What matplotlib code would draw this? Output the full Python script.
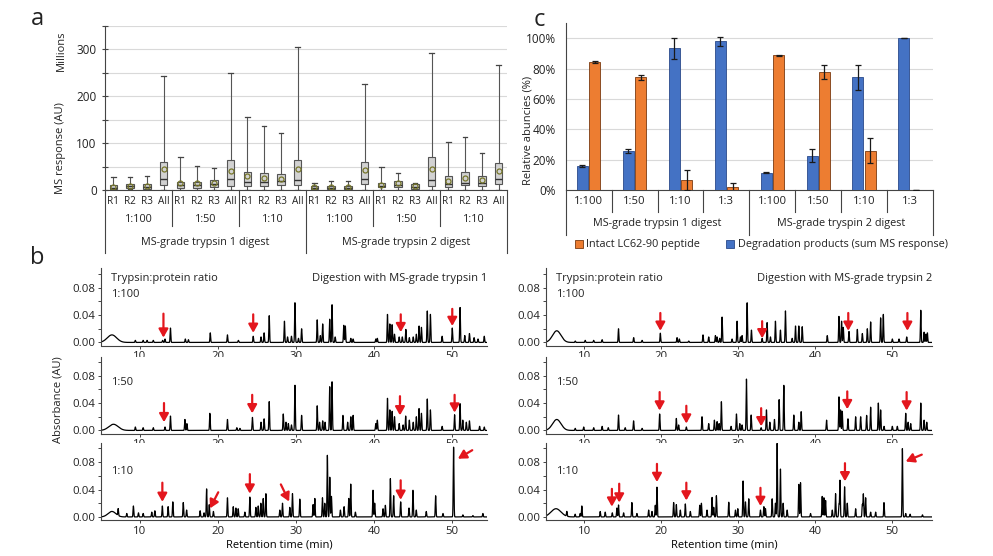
import numpy as np
import matplotlib
matplotlib.use('Agg')
import matplotlib.pyplot as plt
from matplotlib import transforms
from matplotlib.lines import Line2D
from matplotlib.patches import Patch
from matplotlib.ticker import MultipleLocator, FuncFormatter

plt.rcParams['font.family'] = ['Open Sans', 'DejaVu Sans']
plt.rcParams['text.color'] = '#222222'
plt.rcParams['xtick.color'] = '#444444'
plt.rcParams['ytick.color'] = '#444444'
plt.rcParams['xtick.labelcolor'] = '#222222'
plt.rcParams['ytick.labelcolor'] = '#222222'

# ---------------- Panel a data (millions) ----------------
a_reps = ['R1', 'R2', 'R3', 'All']
a_ratios = ['1:100', '1:50', '1:10']
a_digests = ['MS-grade trypsin 1 digest', 'MS-grade trypsin 2 digest']
a_whishi = [28, 27, 30, 243, 71, 51, 48, 249, 155, 137, 121, 305,
            16, 18.5, 18.5, 226, 50, 36, 16, 293, 102, 114, 80, 266]
a_q3 = [11, 13.5, 13, 60, 18, 18, 22, 64, 39, 35.5, 34, 64,
        9, 9, 9.5, 60, 16, 19, 12, 70, 29, 37.7, 30.5, 57]
a_med = [5, 8, 6, 23.4, 11, 11, 12, 23, 18, 17, 19, 20.6,
         4, 4, 4, 23.4, 9, 10, 6, 21, 12, 14, 14, 23.4]
a_q1 = [1.5, 5, 1.5, 10, 5, 5, 6, 8.5, 8.5, 8.5, 10.6, 10.6,
        2, 2, 2, 12.8, 5.7, 5.7, 3, 9, 7, 10.6, 8.5, 12]
a_whislo = [0.5, 2, 0.5, 0.5, 1, 1, 1, 1, 1, 1, 1, 1,
            0.5, 0.5, 0.5, 0.5, 1, 1, 0.5, 1, 1, 1, 1, 1]
a_mean = [6, 9, 8, 44, 14, 14, 16, 41, 30.5, 26, 24, 44,
          5.7, 5.7, 6, 42.6, 11, 14, 8, 45, 19, 26, 21, 40]

# ---------------- Panel c data (%) ----------------
c_ratios = ['1:100', '1:50', '1:10', '1:3', '1:100', '1:50', '1:10', '1:3']
c_digests = ['MS-grade trypsin 1 digest', 'MS-grade tryspin 2 digest']
c_degradation = [16, 25.7, 93.4, 98.2, 11.4, 22.6, 74.3, 100]
c_degradation_err = [0.6, 1.6, 6.7, 3.0, 0.5, 4.4, 8.2, 0]
c_intact = [84.2, 74.3, 6.6, 1.8, 88.8, 77.8, 25.9, 0]
c_intact_err = [0.6, 1.4, 6.6, 3.0, 0.5, 4.4, 8.2, 0]

# ---------------- Panel b data (retention time min, absorbance AU) ----------------
b_ratio_labels = ['1:100', '1:50', '1:10']
b_titles = ['Digestion with MS-grade trypsin 1', 'Digestion with MS-grade trypsin 2']

t1_100_t = [9.4, 10.4, 10.9, 11.7, 12.9, 13.2, 13.9, 15.8, 16.2, 19.0, 21.2, 22.6, 24.5, 25.5, 25.9,
            26.55, 28.5, 28.9, 29.4, 29.85, 30.3, 30.7, 32.7, 33.1, 33.4, 34.3, 34.6, 35.0, 36.1, 36.3,
            37.0, 37.3, 40.2, 40.4, 41.7, 42.0, 42.3, 42.6, 43.2, 43.6, 44.05, 44.5, 45.0, 45.4, 45.75,
            46.05, 46.8, 47.2, 48.7, 50.0, 51.0, 51.6, 52.2, 52.8, 53.3, 54.1]
t1_100_h = [0.003, 0.003, 0.003, 0.003, 0.003, 0.005, 0.021, 0.005, 0.004, 0.014, 0.011, 0.003, 0.009, 0.008, 0.014,
            0.039, 0.031, 0.008, 0.009, 0.058, 0.006, 0.020, 0.033, 0.010, 0.027, 0.034, 0.055, 0.008, 0.025, 0.024,
            0.006, 0.005, 0.005, 0.006, 0.041, 0.027, 0.026, 0.012, 0.008, 0.008, 0.019, 0.007, 0.008, 0.012, 0.024,
            0.022, 0.046, 0.041, 0.009, 0.021, 0.051, 0.010, 0.013, 0.007, 0.005, 0.009]

t1_50_t = [9.4, 10.4, 11.7, 13.2, 13.9, 15.75, 16.0, 18.95, 21.2, 22.4, 22.8, 24.4, 25.5, 25.9, 26.55,
           28.35, 28.7, 29.0, 29.4, 29.85, 30.7, 32.7, 33.0, 33.4, 33.7, 34.3, 34.6, 36.0, 36.6, 37.0,
           37.3, 40.2, 40.4, 41.7, 42.0, 42.3, 42.6, 43.2, 43.7, 44.03, 44.5, 45.0, 45.4, 45.75, 46.05,
           46.8, 47.2, 48.7, 50.3, 51.0, 51.35, 51.8, 52.2, 53.5, 54.1]
t1_50_h = [0.005, 0.004, 0.004, 0.005, 0.021, 0.016, 0.010, 0.025, 0.016, 0.004, 0.003, 0.019, 0.012, 0.017, 0.042,
           0.024, 0.012, 0.010, 0.008, 0.066, 0.022, 0.036, 0.012, 0.014, 0.012, 0.064, 0.071, 0.022, 0.012, 0.020,
           0.022, 0.010, 0.015, 0.047, 0.030, 0.028, 0.020, 0.010, 0.008, 0.021, 0.015, 0.012, 0.020, 0.032, 0.025,
           0.046, 0.030, 0.006, 0.023, 0.039, 0.015, 0.012, 0.014, 0.006, 0.005]

t1_10_t = [7.2, 8.3, 9.15, 9.8, 10.4, 11.5, 11.9, 12.86, 13.6, 14.2, 15.54, 15.97, 17.7, 18.2, 18.53,
           18.87, 19.4, 21.2, 21.94, 22.28, 22.58, 23.43, 24.07, 24.84, 25.14, 25.48, 25.78, 26.12, 27.91, 28.25,
           29.19, 29.53, 30.47, 32.17, 32.39, 33.37, 33.67, 34.0, 34.31, 34.52, 35.67, 36.14, 36.74, 36.99, 37.59,
           39.85, 40.06, 41.13, 41.43, 42.07, 42.49, 43.39, 44.46, 44.97, 45.39, 46.67, 47.87, 48.81, 50.17, 51.36,
           52.64, 53.92]
t1_10_h = [0.010, 0.005, 0.016, 0.006, 0.005, 0.007, 0.009, 0.016, 0.015, 0.022, 0.021, 0.010, 0.009, 0.006, 0.041,
           0.018, 0.008, 0.028, 0.015, 0.013, 0.012, 0.007, 0.029, 0.014, 0.016, 0.020, 0.027, 0.034, 0.010, 0.020,
           0.014, 0.034, 0.026, 0.018, 0.027, 0.028, 0.020, 0.090, 0.058, 0.030, 0.010, 0.015, 0.027, 0.048, 0.007,
           0.039, 0.020, 0.012, 0.017, 0.056, 0.031, 0.022, 0.013, 0.039, 0.010, 0.008, 0.031, 0.005, 0.102, 0.003,
           0.002, 0.005]

t2_100_t = [8.8, 10.1, 11.2, 12.3, 14.43, 16.4, 17.5, 19.87, 22.04, 22.34, 23.56, 25.42, 26.16, 27.03, 27.25,
            27.59, 27.9, 29.2, 29.85, 30.29, 30.5, 31.16, 31.72, 33.11, 33.76, 34.19, 34.84, 35.49, 36.14, 37.01,
            37.45, 37.88, 38.32, 41.58, 43.1, 43.44, 43.66, 44.4, 45.49, 46.14, 46.79, 47.22, 48.52, 48.87, 50.04,
            50.91, 51.91, 53.74, 54.17, 54.39, 54.6]
t2_100_h = [0.002, 0.003, 0.003, 0.004, 0.020, 0.007, 0.003, 0.0135, 0.007, 0.005, 0.002, 0.011, 0.008, 0.010, 0.008,
            0.006, 0.037, 0.005, 0.031, 0.008, 0.010, 0.058, 0.018, 0.006, 0.029, 0.008, 0.031, 0.018, 0.046, 0.006,
            0.024, 0.024, 0.023, 0.010, 0.038, 0.031, 0.022, 0.016, 0.019, 0.013, 0.020, 0.030, 0.036, 0.041, 0.005,
            0.005, 0.008, 0.047, 0.015, 0.012, 0.014]

t2_50_t = [8.8, 9.9, 11.2, 12.3, 13.1, 14.43, 15.3, 16.39, 17.5, 19.78, 21.95, 22.25, 23.25, 25.29, 26.16,
           26.9, 27.25, 27.51, 27.81, 29.07, 29.77, 30.2, 30.5, 31.07, 31.68, 32.98, 33.67, 34.11, 34.71, 35.32,
           35.93, 37.23, 37.88, 38.19, 41.49, 43.1, 43.31, 43.53, 44.27, 45.27, 45.92, 46.7, 47.22, 48.22, 48.52,
           48.96, 50.04, 50.69, 51.78, 52.09, 52.43, 53.74, 54.17, 54.52]
t2_50_h = [0.003, 0.005, 0.004, 0.006, 0.004, 0.0225, 0.004, 0.014, 0.003, 0.024, 0.0175, 0.008, 0.005, 0.020, 0.010,
           0.015, 0.013, 0.010, 0.042, 0.006, 0.024, 0.010, 0.008, 0.075, 0.0225, 0.004, 0.030, 0.012, 0.016, 0.045,
           0.066, 0.0225, 0.012, 0.0275, 0.015, 0.049, 0.030, 0.028, 0.017, 0.020, 0.020, 0.022, 0.034, 0.040, 0.030,
           0.006, 0.006, 0.006, 0.025, 0.012, 0.010, 0.040, 0.015, 0.012]

t2_10_t = [7.71, 8.79, 9.44, 9.66, 12.05, 12.7, 13.62, 14.22, 14.43, 15.09, 16.17, 16.82, 18.35, 18.78, 19.21,
           19.43, 21.6, 21.95, 22.47, 23.12, 23.77, 24.99, 25.21, 25.94, 26.6, 26.81, 27.16, 28.77, 29.64, 29.94,
           30.63, 30.94, 31.37, 32.89, 33.33, 33.54, 34.41, 34.84, 35.06, 35.49, 35.84, 36.36, 37.88, 38.1, 39.4,
           40.92, 41.14, 41.36, 42.23, 42.66, 43.1, 43.23, 43.83, 44.18, 45.27, 46.14, 46.27, 46.57, 47.22, 47.87,
           48.96, 51.35, 51.78, 52.35, 53.96]
t2_10_h = [0.007, 0.004, 0.005, 0.016, 0.008, 0.007, 0.006, 0.013, 0.0175, 0.006, 0.021, 0.005, 0.010, 0.008, 0.017,
           0.0435, 0.021, 0.018, 0.010, 0.019, 0.008, 0.017, 0.020, 0.010, 0.0285, 0.014, 0.031, 0.0215, 0.010, 0.012,
           0.0525, 0.022, 0.0265, 0.010, 0.015, 0.012, 0.0265, 0.020, 0.1075, 0.070, 0.020, 0.010, 0.0475, 0.050, 0.005,
           0.030, 0.028, 0.024, 0.010, 0.034, 0.018, 0.0535, 0.044, 0.020, 0.012, 0.018, 0.0335, 0.028, 0.007, 0.007,
           0.021, 0.100, 0.005, 0.004, 0.003]

# broad early hump per trace: (centre, height, width) in order L100, L50, L10, R100, R50, R10
hump_t = [6.4, 6.6, 6.4, 6.4, 6.4, 6.3]
hump_h = [0.011, 0.009, 0.008, 0.017, 0.016, 0.012]
hump_w = [0.6, 0.6, 0.5, 0.55, 0.55, 0.65]

# arrows: (tail_t, tail_h, tip_t, tip_h)
arr_L100 = [(13.0, 0.042, 13.0, 0.007), (24.5, 0.041, 24.5, 0.014), (43.4, 0.041, 43.4, 0.015),
            (50.0, 0.049, 50.0, 0.024)]
arr_L50 = [(13.07, 0.040, 13.07, 0.012), (24.37, 0.052, 24.37, 0.025), (43.3, 0.050, 43.3, 0.022),
           (50.3, 0.052, 50.3, 0.026)]
arr_L10 = [(12.86, 0.050, 12.86, 0.022), (24.07, 0.0625, 24.07, 0.034), (43.39, 0.0535, 43.39, 0.025),
           (20.02, 0.036, 18.96, 0.0125), (28.04, 0.0475, 29.10, 0.0225), (52.56, 0.0975, 50.72, 0.085)]
arr_R100 = [(19.87, 0.043, 19.87, 0.017), (33.11, 0.031, 33.11, 0.006), (44.31, 0.043, 44.31, 0.017),
            (52.0, 0.043, 52.0, 0.017)]
arr_R50 = [(19.78, 0.056, 19.78, 0.029), (23.25, 0.036, 23.25, 0.010), (32.98, 0.0325, 32.98, 0.006),
           (44.18, 0.057, 44.18, 0.031), (51.9, 0.056, 51.9, 0.029)]
arr_R10 = [(13.57, 0.041, 13.57, 0.015), (14.52, 0.0485, 14.52, 0.021), (19.43, 0.0775, 19.43, 0.051),
           (23.25, 0.050, 23.25, 0.024), (32.89, 0.0425, 32.89, 0.016), (43.88, 0.0785, 43.88, 0.052),
           (53.87, 0.091, 51.78, 0.081)]

# ---------------- figure ----------------
W, H = 993, 556
fig = plt.figure(figsize=(W / 100, H / 100), dpi=100)


def rect(x0, y0, x1, y1):
    return [x0 / W, 1 - y1 / H, (x1 - x0) / W, (y1 - y0) / H]


def fy(py):
    return 1 - py / H


SPINE = '#444444'
TXT = 7.8     # general annotation text
TICK = 8.2    # tick labels

# ---------------- Panel a ----------------
axA = fig.add_axes(rect(105, 26, 507, 190))
stats = []
for i in range(24):
    stats.append(dict(med=a_med[i], q1=a_q1[i], q3=a_q3[i], whislo=a_whislo[i],
                      whishi=a_whishi[i], mean=a_mean[i], fliers=[]))
axA.bxp(stats, positions=list(range(24)), widths=0.45, showmeans=True, patch_artist=True,
        capwidths=0.28,
        boxprops=dict(facecolor='#d2d2d2', edgecolor='#555555', linewidth=0.8),
        medianprops=dict(color='#333333', linewidth=1.0),
        whiskerprops=dict(color='#555555', linewidth=0.8),
        capprops=dict(color='#444444', linewidth=0.9),
        meanprops=dict(marker='o', markersize=3.6, markerfacecolor='none',
                       markeredgecolor='#76762a', markeredgewidth=0.9))
axA.set_xlim(-0.5, 23.5)
axA.set_ylim(0, 350)
axA.yaxis.set_major_locator(MultipleLocator(100))
axA.yaxis.set_minor_locator(MultipleLocator(50))
axA.yaxis.grid(True, which='both', color='#d9d9d9', linewidth=0.8)
axA.set_axisbelow(True)
axA.set_xticks([])
axA.tick_params(axis='y', which='both', direction='inout', length=4, width=0.8, labelsize=TICK + 0.3, pad=4)
for s in ['top', 'right']:
    axA.spines[s].set_visible(False)
axA.spines['left'].set_color(SPINE)
axA.spines['bottom'].set_color(SPINE)
axA.spines['left'].set_linewidth(0.8)
axA.spines['bottom'].set_linewidth(0.8)

trA = transforms.blended_transform_factory(axA.transData, fig.transFigure)
for i in range(24):
    axA.text(i, fy(201), a_reps[i % 4], transform=trA, ha='center', va='center', fontsize=TXT - 0.6)
for g in range(6):
    axA.text(g * 4 + 1.5, fy(220), a_ratios[g % 3], transform=trA, ha='center', va='center', fontsize=TXT)
for d in range(2):
    axA.text(d * 12 + 5.5, fy(242), a_digests[d], transform=trA, ha='center', va='center', fontsize=TXT)
for xs in [3.5, 7.5, 15.5, 19.5]:
    axA.add_line(Line2D([xs, xs], [fy(190), fy(226)], transform=trA, color=SPINE, lw=0.8, clip_on=False))
for xs in [-0.5, 11.5, 23.5]:
    axA.add_line(Line2D([xs, xs], [fy(190), fy(253)], transform=trA, color=SPINE, lw=0.8, clip_on=False))
axA.set_xlim(-0.5, 23.5)
axA.set_ylim(0, 350)

fig.text(61 / W, fy(148), 'MS response (AU)', rotation=90, ha='center', va='center', fontsize=TXT + 0.2)
fig.text(61 / W, fy(51), 'Millions', rotation=90, ha='center', va='center', fontsize=TXT + 0.2)

# ---------------- Panel c ----------------
axC = fig.add_axes(rect(565.7, 23.3, 933, 190))
xc = np.arange(8)
ekw = dict(ecolor='#1a1a1a', elinewidth=0.9, capsize=2.5, capthick=0.9)
axC.bar(xc - 0.135, c_degradation, 0.24, yerr=c_degradation_err, color='#4472c4',
        edgecolor='#2a4a8a', linewidth=0.6, error_kw=ekw, zorder=3)
axC.bar(xc + 0.135, c_intact, 0.24, yerr=c_intact_err, color='#ed7d31',
        edgecolor='#7a3a10', linewidth=0.6, error_kw=ekw, zorder=3)
axC.set_xlim(-0.5, 7.5)
axC.set_ylim(0, 110)
axC.set_yticks([0, 20, 40, 60, 80, 100])
axC.yaxis.set_major_formatter(FuncFormatter(lambda v, p: f'{v:.0f}%'))
axC.yaxis.grid(True, color='#d9d9d9', linewidth=0.8)
axC.set_axisbelow(True)
axC.set_xticks([])
axC.tick_params(axis='y', direction='out', length=0, labelsize=TICK + 0.3, pad=7)
for s in ['top', 'right']:
    axC.spines[s].set_visible(False)
for s in ['left', 'bottom']:
    axC.spines[s].set_color(SPINE)
    axC.spines[s].set_linewidth(0.8)

trC = transforms.blended_transform_factory(axC.transData, fig.transFigure)
for i in range(8):
    axC.text(i, fy(202), c_ratios[i], transform=trC, ha='center', va='center', fontsize=TXT + 0.3)
for d in range(2):
    axC.text(d * 4 + 1.5, fy(224), c_digests[d], transform=trC, ha='center', va='center', fontsize=TXT)
for xs in [0.5, 1.5, 2.5, 4.5, 5.5, 6.5]:
    axC.add_line(Line2D([xs, xs], [fy(190), fy(212)], transform=trC, color=SPINE, lw=0.8, clip_on=False))
for xs in [-0.5, 3.5, 7.5]:
    axC.add_line(Line2D([xs, xs], [fy(190), fy(235)], transform=trC, color=SPINE, lw=0.8, clip_on=False))
axC.set_xlim(-0.5, 7.5)
axC.set_ylim(0, 110)

fig.text(528 / W, fy(130), 'Relative abuncies (%)', rotation=90, ha='center', va='center', fontsize=TXT + 0.2)

handles = [Patch(facecolor='#ed7d31', edgecolor='#7a3a10', linewidth=0.6),
           Patch(facecolor='#4472c4', edgecolor='#2a4a8a', linewidth=0.6)]
fig.legend(handles, ['Intact LC62-90 peptide', 'Degradation products (sum MS response)'],
           loc='center left', bbox_to_anchor=(575 / W, fy(245)), ncol=2, frameon=False,
           fontsize=TXT, handlelength=0.75, handleheight=0.75, handletextpad=0.3,
           columnspacing=2.4, borderpad=0, borderaxespad=0)

# ---------------- Panel b ----------------
rows_y = [(268.5, 345.5), (356.5, 433.5), (443, 520)]
cols_x = [(101, 487), (546, 932)]
xlims = [(5.0, 54.45), (5.0, 55.2)]
peaks = [[(t1_100_t, t1_100_h), (t1_50_t, t1_50_h), (t1_10_t, t1_10_h)],
         [(t2_100_t, t2_100_h), (t2_50_t, t2_50_h), (t2_10_t, t2_10_h)]]
arrows = [[arr_L100, arr_L50, arr_L10], [arr_R100, arr_R50, arr_R10]]
sigma = 0.045
ARROW_RED = '#e3161d'

for c in range(2):
    for r in range(3):
        y0, y1 = rows_y[r]
        x0, x1 = cols_x[c]
        ax = fig.add_axes(rect(x0, y0, x1, y1))
        lo, hi = xlims[c]
        tt = np.linspace(lo, hi, 8000)
        k = c * 3 + r
        sig = hump_h[k] * np.exp(-0.5 * ((tt - hump_t[k]) / hump_w[k]) ** 2)
        pt, ph = peaks[c][r]
        for t0, h0 in zip(pt, ph):
            sig = sig + h0 * np.exp(-0.5 * ((tt - t0) / sigma) ** 2)
        ax.plot(tt, sig, color='black', lw=0.9)
        for (ta, ha_, tb, hb) in arrows[c][r]:
            ax.annotate('', xy=(tb, hb), xytext=(ta, ha_),
                        arrowprops=dict(arrowstyle='-|>,head_length=0.5,head_width=0.28',
                                        color=ARROW_RED, lw=1.6, mutation_scale=10,
                                        shrinkA=0, shrinkB=0))
        ax.set_xlim(lo, hi)
        ax.set_ylim(-0.0045, 0.108)
        ax.set_xticks([10, 20, 30, 40, 50])
        ax.yaxis.set_major_locator(MultipleLocator(0.04))
        ax.yaxis.set_minor_locator(MultipleLocator(0.02))
        ax.yaxis.set_major_formatter(FuncFormatter(lambda v, p: f'{v:.2f}'))
        ax.tick_params(axis='both', which='both', direction='out', length=2.5, width=0.7,
                       labelsize=TICK, pad=1.5)
        for s in ['top', 'right']:
            ax.spines[s].set_visible(False)
        for s in ['left', 'bottom']:
            ax.spines[s].set_color(SPINE)
            ax.spines[s].set_linewidth(0.8)
        if r == 0:
            ax.text(0.027, 0.875, 'Trypsin:protein ratio', transform=ax.transAxes,
                    ha='left', va='center', fontsize=TXT + 0.2)
            ax.text(0.027, 0.665, b_ratio_labels[0], transform=ax.transAxes,
                    ha='left', va='center', fontsize=TXT + 0.2)
            ax.text(1.0, 0.875, b_titles[c], transform=ax.transAxes,
                    ha='right', va='center', fontsize=TXT + 0.2)
        elif r == 1:
            ax.text(0.027, 0.66, b_ratio_labels[1], transform=ax.transAxes,
                    ha='left', va='center', fontsize=TXT + 0.2)
        else:
            ax.text(0.027, 0.63, b_ratio_labels[2], transform=ax.transAxes,
                    ha='left', va='center', fontsize=TXT + 0.2)
            ax.set_xlabel('Retention time (min)', fontsize=TXT + 0.2)
            ax.xaxis.set_label_coords(0.463, -0.255)

fig.text(58 / W, fy(400), 'Absorbance (AU)', rotation=90, ha='center', va='center', fontsize=TXT + 0.2)

# panel letters
fig.text(37 / W, fy(19), 'a', ha='center', va='center', fontsize=17)
fig.text(37 / W, fy(258), 'b', ha='center', va='center', fontsize=17)
fig.text(539 / W, fy(20), 'c', ha='center', va='center', fontsize=17)

fig.savefig('out.png', dpi=100)
